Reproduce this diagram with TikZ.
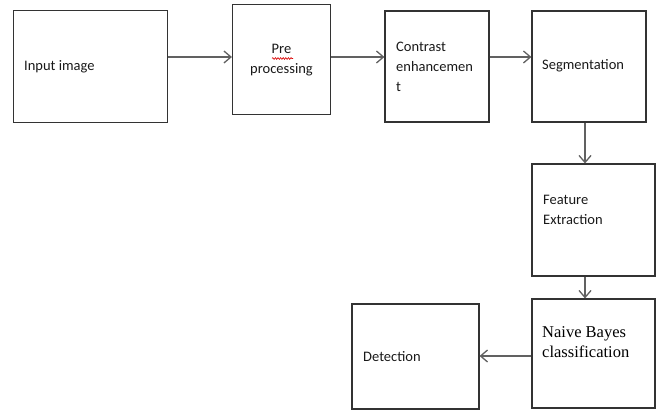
\documentclass[tikz,border=0pt]{standalone}
\usepackage{fontspec}
\setmainfont{Carlito}
\newfontfamily\serifnb{Liberation Serif}
\usetikzlibrary{arrows.meta,decorations.pathmorphing}
\begin{document}
\begin{tikzpicture}[x=1pt,y=-1pt,
  box/.style={draw=black!80,line width=1.1pt,inner sep=0pt,rectangle},
  arr/.style={draw=black!62,line width=1.3pt,-{Straight Barb[length=7pt,width=12pt,line width=1.3pt]}},
  lbl/.style={inner sep=0pt,anchor=west,align=left,text=black!90,font=\fontsize{14.5}{20}\selectfont},
  nb/.style={inner sep=0pt,anchor=west,align=left,text=black,font=\serifnb\fontsize{16.5}{20}\selectfont}]
\useasboundingbox (0,0) rectangle (656,412);
% boxes
\node[box,minimum width=154pt,minimum height=112pt] (b1) at (90.5,66.5) {};
\node[box,minimum width=98pt,minimum height=110pt] (b2) at (281.5,59.5) {};
\node[box,minimum width=104pt,minimum height=111pt] (b3) at (437,66.5) {};
\node[box,minimum width=114pt,minimum height=111pt] (b4) at (589,66.5) {};
\node[box,minimum width=123pt,minimum height=112pt] (b5) at (593.5,220) {};
\node[box,minimum width=123pt,minimum height=109pt] (b6) at (593.5,353.5) {};
\node[box,minimum width=127pt,minimum height=105pt] (b7) at (415.5,356.5) {};
% texts
\node[lbl] (t1) at (24,67) {Input image};
\node[lbl,anchor=center,align=center] (t2) at (281.5,60) {Pre\\processing};
\node[lbl] (t3) at (396,67) {Contrast\\enhancemen\\t};
\node[lbl] (t4) at (542,66) {Segmentation};
\node[lbl] (t5) at (543,210) {Feature\\Extraction};
\node[nb] (t6) at (542,342) {Naive Bayes\\classification};
\node[lbl] (t7) at (363,357) {Detection};
% spell-check underline
\draw[red!85!black,line width=0.6pt,decorate,decoration={snake,amplitude=0.9pt,segment length=2.6pt}] (272,58.5) -- (293,58.5);
% connectors
\draw[arr] (b1.east|-0,57) -- (b2.west|-0,57);
\draw[arr] (b2.east|-0,57) -- (b3.west|-0,57);
\draw[arr] (b3.east|-0,57) -- (b4.west|-0,57);
\draw[arr] (b4.south-|585,0) -- (b5.north-|585,0);
\draw[arr] (b5.south-|585,0) -- (b6.north-|585,0);
\draw[arr] (b6.west|-0,356) -- (b7.east|-0,356);
\end{tikzpicture}
\end{document}
